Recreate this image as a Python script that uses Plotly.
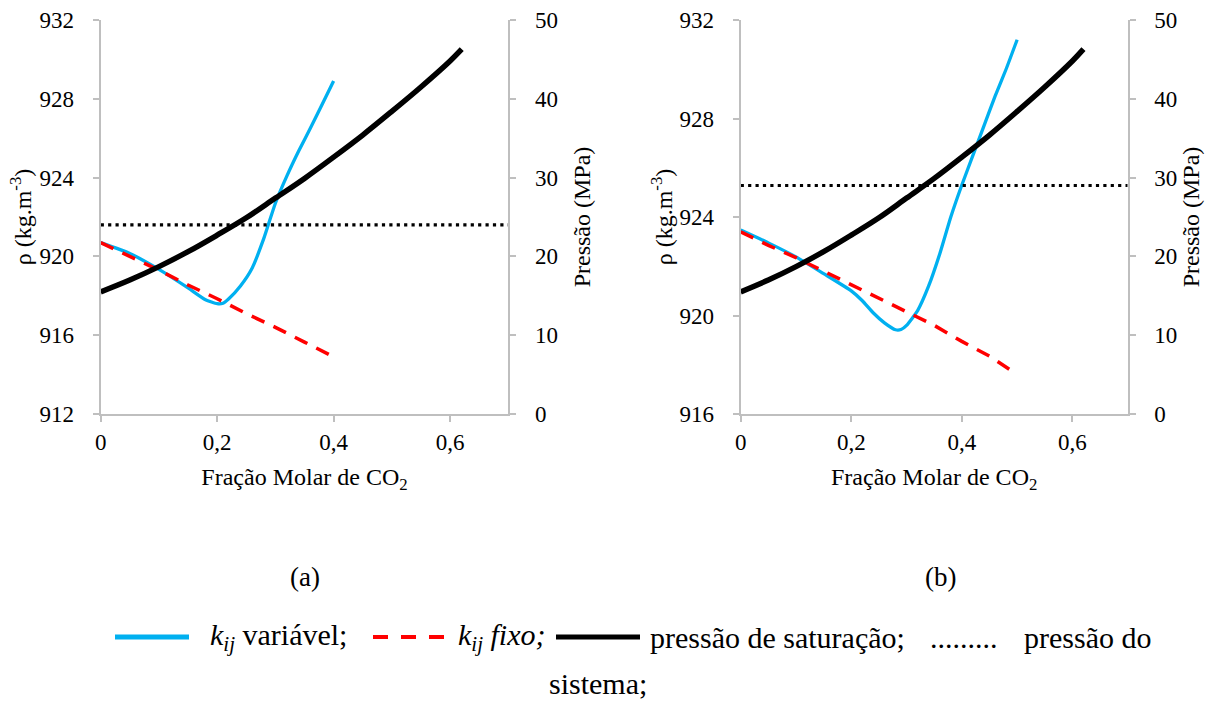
import plotly.graph_objects as go

# ---------------- data ----------------
# (a)
xa_var = [0.0, 0.05, 0.10, 0.15, 0.18, 0.20, 0.21, 0.22, 0.24, 0.26, 0.28, 0.30, 0.32, 0.34, 0.36, 0.38, 0.40]
rho_a_var = [920.70, 920.15, 919.34, 918.40, 917.80, 917.60, 917.62, 917.85, 918.50, 919.40, 920.90, 922.70, 924.10, 925.35, 926.50, 927.70, 928.90]
xa_fix = [0.0, 0.05, 0.10, 0.15, 0.20, 0.25, 0.30, 0.35, 0.40]
rho_a_fix = [920.70, 920.00, 919.30, 918.55, 917.85, 917.10, 916.40, 915.65, 914.90]
x_sat = [0.0, 0.05, 0.10, 0.15, 0.20, 0.25, 0.30, 0.35, 0.40, 0.45, 0.50, 0.55, 0.60, 0.62]
p_sat_a = [15.5, 17.0, 18.7, 20.6, 22.7, 24.9, 27.4, 29.9, 32.6, 35.4, 38.4, 41.5, 44.8, 46.3]
x_sys = [0.0, 0.7]
p_sys_a = [24.0, 24.0]

# (b)
xb_var = [0.0, 0.05, 0.10, 0.15, 0.20, 0.22, 0.24, 0.26, 0.28, 0.29, 0.30, 0.32, 0.34, 0.36, 0.38, 0.40, 0.42, 0.44, 0.46, 0.48, 0.50]
rho_b_var = [923.47, 922.95, 922.38, 921.70, 921.00, 920.60, 920.10, 919.70, 919.42, 919.43, 919.60, 920.20, 921.20, 922.50, 924.00, 925.30, 926.50, 927.70, 928.90, 930.00, 931.20]
xb_fix = [0.0, 0.05, 0.10, 0.15, 0.20, 0.25, 0.30, 0.35, 0.40, 0.45, 0.50]
rho_b_fix = [923.40, 922.85, 922.35, 921.80, 921.25, 920.70, 920.15, 919.60, 918.95, 918.35, 917.60]
p_sat_b = [15.5, 17.0, 18.7, 20.6, 22.7, 24.9, 27.4, 29.9, 32.6, 35.4, 38.4, 41.5, 44.8, 46.3]
p_sys_b = [29.0, 29.0]

x_tickvals = [0, 0.2, 0.4, 0.6]
x_ticktext = ["0", "0,2", "0,4", "0,6"]
rho_a_ticks = [912, 916, 920, 924, 928, 932]
rho_b_ticks = [916, 920, 924, 928, 932]
p_ticks = [0, 10, 20, 30, 40, 50]

# ---------------- style ----------------
W, H = 1211, 702
FONT = "Liberation Serif"
BLUE = "#00B0F0"
RED = "#FF0000"
GRAY = "#BFBFBF"

def px(x):
    return x / W

def py(y):
    return 1 - y / H

fig = go.Figure()

# (a)
fig.add_trace(go.Scatter(x=xa_var, y=rho_a_var, xaxis="x", yaxis="y", mode="lines",
                         line=dict(color=BLUE, width=3.3, shape="spline", smoothing=0.5), showlegend=False))
fig.add_trace(go.Scatter(x=xa_fix, y=rho_a_fix, xaxis="x", yaxis="y", mode="lines",
                         line=dict(color=RED, width=3.5, dash="14px,10px"), showlegend=False))
fig.add_trace(go.Scatter(x=x_sat, y=p_sat_a, xaxis="x", yaxis="y2", mode="lines",
                         line=dict(color="black", width=5.5, shape="spline"), showlegend=False))
fig.add_trace(go.Scatter(x=x_sys, y=p_sys_a, xaxis="x", yaxis="y2", mode="lines",
                         line=dict(color="black", width=3.2, dash="3.2px,4.2px"), showlegend=False))
# (b)
fig.add_trace(go.Scatter(x=xb_var, y=rho_b_var, xaxis="x2", yaxis="y3", mode="lines",
                         line=dict(color=BLUE, width=3.3, shape="spline", smoothing=0.5), showlegend=False))
fig.add_trace(go.Scatter(x=xb_fix, y=rho_b_fix, xaxis="x2", yaxis="y3", mode="lines",
                         line=dict(color=RED, width=3.5, dash="14px,10px"), showlegend=False))
fig.add_trace(go.Scatter(x=x_sat, y=p_sat_b, xaxis="x2", yaxis="y4", mode="lines",
                         line=dict(color="black", width=5.5, shape="spline"), showlegend=False))
fig.add_trace(go.Scatter(x=x_sys, y=p_sys_b, xaxis="x2", yaxis="y4", mode="lines",
                         line=dict(color="black", width=3.2, dash="3.2px,4.2px"), showlegend=False))

tickfont = dict(family=FONT, size=23, color="black")
titlefont = dict(family=FONT, size=24, color="black")
common = dict(showline=True, linecolor=GRAY, linewidth=2, ticks="outside", ticklen=6,
              tickcolor=GRAY, tickwidth=2, showgrid=False, zeroline=False, tickfont=tickfont)

xa_dom = [px(100.7), px(508.3)]
xb_dom = [px(740.7), px(1127.7)]
y_dom = [py(414), py(20)]

fig.update_layout(
    autosize=True,
    margin=dict(l=0, r=0, t=0, b=0, autoexpand=False),
    paper_bgcolor="white", plot_bgcolor="white",
    font=dict(family=FONT, color="black", size=23),
    xaxis=dict(domain=xa_dom, range=[0, 0.7], tickvals=x_tickvals, ticktext=x_ticktext,
               anchor="y", ticklabelstandoff=0,
               title=dict(text="Fração Molar de CO<sub>2</sub>", font=titlefont, standoff=15), **common),
    yaxis=dict(domain=y_dom, range=[912, 932], tickvals=rho_a_ticks, anchor="x", ticklabelstandoff=14,
               title=dict(text="ρ (kg.m<sup>-3</sup>)", font=titlefont, standoff=1), **common),
    yaxis2=dict(domain=y_dom, range=[0, 50], tickvals=p_ticks, anchor="x", overlaying="y", side="right",
                ticklabelstandoff=14,
                title=dict(text="Pressão (MPa)", font=titlefont, standoff=16), **common),
    xaxis2=dict(domain=xb_dom, range=[0, 0.7], tickvals=x_tickvals, ticktext=x_ticktext,
                anchor="y3", ticklabelstandoff=0,
                title=dict(text="Fração Molar de CO<sub>2</sub>", font=titlefont, standoff=15), **common),
    yaxis3=dict(domain=y_dom, range=[916, 932], tickvals=rho_b_ticks, anchor="x2", ticklabelstandoff=14,
                title=dict(text="ρ (kg.m<sup>-3</sup>)", font=titlefont, standoff=0), **common),
    yaxis4=dict(domain=y_dom, range=[0, 50], tickvals=p_ticks, anchor="x2", overlaying="y3", side="right",
                ticklabelstandoff=14,
                title=dict(text="Pressão (MPa)", font=titlefont, standoff=6), **common),
)

# panel labels
for lab, xc in [("(a)", 305), ("(b)", 940)]:
    fig.add_annotation(text=lab, x=px(xc), y=py(577), xref="paper", yref="paper",
                       showarrow=False, xanchor="center", yanchor="middle",
                       font=dict(family=FONT, size=27, color="black"))

# caption-style legend
LY = 637
fig.add_shape(type="line", xref="paper", yref="paper", x0=px(115), x1=px(189), y0=py(LY), y1=py(LY),
              line=dict(color=BLUE, width=5))
fig.add_shape(type="line", xref="paper", yref="paper", x0=px(373), x1=px(444), y0=py(LY), y1=py(LY),
              line=dict(color=RED, width=4, dash="15px,13px"))
fig.add_shape(type="line", xref="paper", yref="paper", x0=px(556), x1=px(640), y0=py(LY), y1=py(LY),
              line=dict(color="black", width=5))

cap_font = dict(family=FONT, size=30, color="black")
caption = [
    ("<i>k<sub>ij</sub></i> variável;", 208),
    ("<i>k<sub>ij</sub> fixo;</i>", 456),
    ("pressão de saturação;", 648),
    (".........", 928),
    ("pressão do", 1022),
]
for txt, xl in caption:
    fig.add_annotation(text=txt, x=px(xl), y=py(LY), xref="paper", yref="paper", showarrow=False,
                       xanchor="left", yanchor="middle", font=cap_font)
fig.add_annotation(text="sistema;", x=px(598), y=py(683), xref="paper", yref="paper", showarrow=False,
                   xanchor="center", yanchor="middle", font=cap_font)

fig.write_html("out.html", default_width="100%", default_height="100%")
